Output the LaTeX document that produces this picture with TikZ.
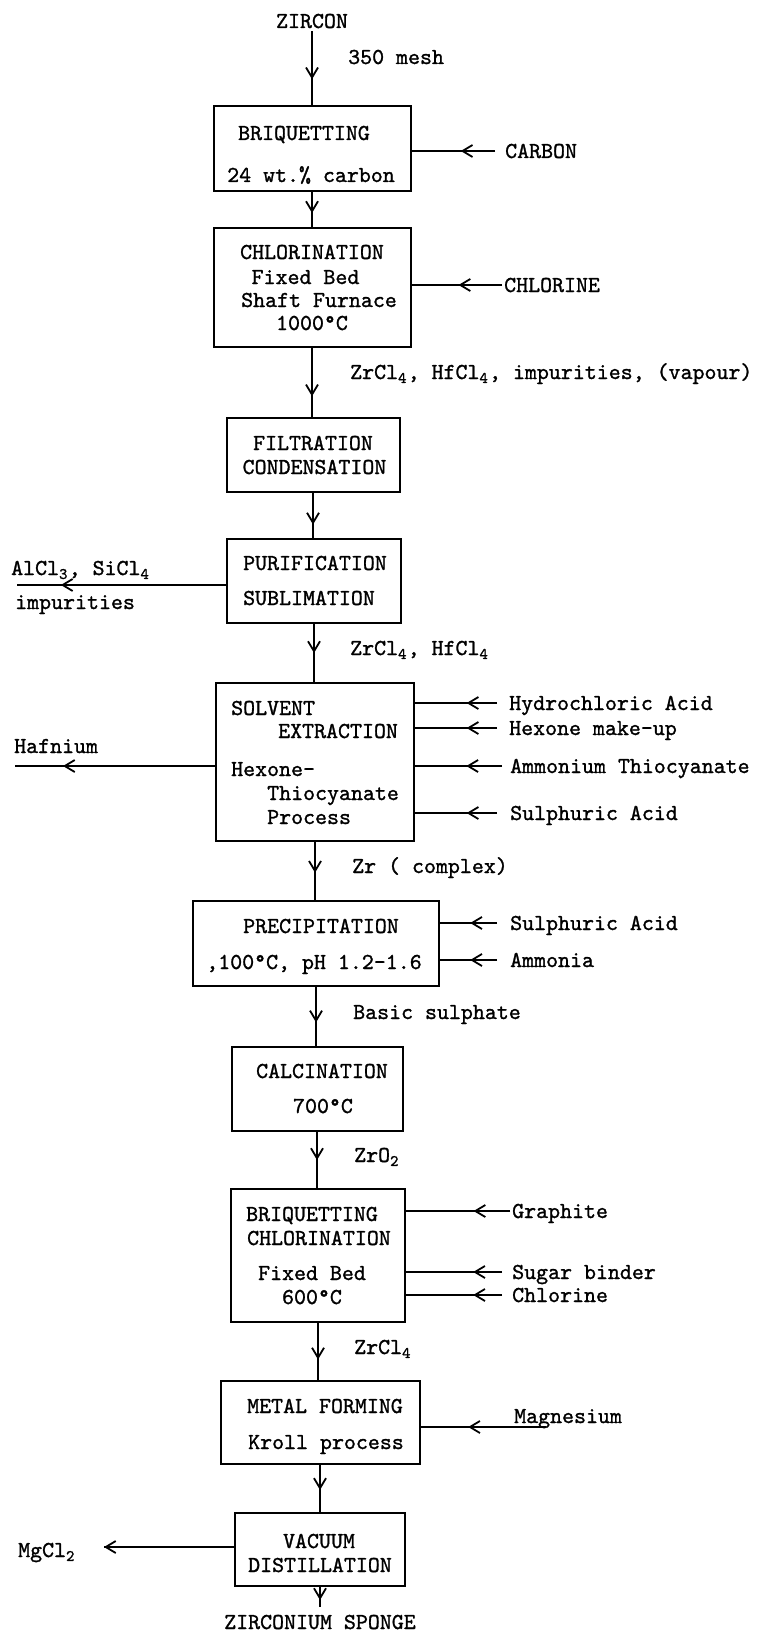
\documentclass[tikz,border=0pt]{standalone}
\usepackage{fontspec}
\usetikzlibrary{arrows.meta,decorations.markings}
\newfontfamily\diagtt{lmmono10-regular.otf}[FakeBold=1.2]
\newcommand\diagfont{\diagtt\fontsize{22.8}{26}\selectfont}
\newcommand\chemsub[1]{\makebox[0.42em][l]{\raisebox{-0.4ex}{\fontsize{16}{16}\selectfont #1}}}
\tikzset{
  box/.style={draw, rectangle, line width=2pt, inner sep=0pt},
  txt/.style={font=\diagfont, inner sep=3pt, anchor=base},
  lbl/.style={font=\diagfont, inner sep=3pt, anchor=base west},
  flowline/.style={line width=1.8pt, postaction={decorate},
    decoration={markings, mark=at position #1 with {\arrow{Straight Barb[length=10pt,width=12pt]}}}},
  flowline/.default=0.5,
}
\begin{document}
\begin{tikzpicture}[x=1pt,y=-1pt]
\useasboundingbox (0,0) rectangle (758,1632);

% ---- process boxes ----
\node[box, minimum width=197pt, minimum height=85pt]  (b1)  at (312,148.5) {};
\node[box, minimum width=197pt, minimum height=119pt] (b2)  at (312,287.5) {};
\node[box, minimum width=173pt, minimum height=74pt]  (b3)  at (313,455) {};
\node[box, minimum width=174pt, minimum height=84pt]  (b4)  at (314,581) {};
\node[box, minimum width=198pt, minimum height=158pt] (b5)  at (315,762) {};
\node[box, minimum width=246pt, minimum height=85pt]  (b6)  at (316,943.5) {};
\node[box, minimum width=171pt, minimum height=84pt]  (b7)  at (317,1089) {};
\node[box, minimum width=174pt, minimum height=133pt] (b8)  at (318,1255.5) {};
\node[box, minimum width=199pt, minimum height=83pt]  (b9)  at (320,1422.5) {};
\node[box, minimum width=170pt, minimum height=73pt]  (b10) at (320,1549.5) {};

% ---- box texts ----
\node[txt] (t1a) at (304,140) {BRIQUETTING};
\node[txt] (t1b) at (311,182) {24 wt.\% carbon};

\node[txt] (t2a) at (312,259) {CHLORINATION};
\node[txt] (t2b) at (305.5,284) {Fixed Bed};
\node[txt] (t2c) at (319,307) {Shaft Furnace};
\node[txt] (t2d) at (312,330) {1000\textdegree C};

\node[txt] (t3a) at (313,450) {FILTRATION};
\node[txt] (t3b) at (314.5,474) {CONDENSATION};

\node[txt] (t4a) at (315,570) {PURIFICATION};
\node[txt] (t4b) at (309,605) {SUBLIMATION};

\node[lbl] (t5a) at (228,715) {SOLVENT};
\node[lbl] (t5b) at (275,738) {EXTRACTION};
\node[lbl] (t5c) at (228,776) {Hexone-};
\node[lbl] (t5d) at (264,800) {Thiocyanate};
\node[lbl] (t5e) at (264,824) {Process};

\node[txt] (t6a) at (321,933) {PRECIPITATION};
\node[txt] (t6b) at (314,969) {,100\textdegree C, pH 1.2-1.6};

\node[txt] (t7a) at (322,1078) {CALCINATION};
\node[txt] (t7b) at (323,1113) {700\textdegree C};

\node[txt] (t8a) at (312,1221) {BRIQUETTING};
\node[txt] (t8b) at (319,1245) {CHLORINATION};
\node[txt] (t8c) at (312,1280) {Fixed Bed};
\node[txt] (t8d) at (312,1304) {600\textdegree C};

\node[txt] (t9a) at (325,1413) {METAL FORMING};
\node[txt] (t9b) at (326,1449) {Kroll process};

\node[txt] (t10a) at (319,1548) {VACUUM};
\node[txt] (t10b) at (320,1572) {DISTILLATION};

% ---- main stream ----
\node[txt] (zircon) at (312,28) {ZIRCON};
\node[lbl] (mesh) at (345,64) {350 mesh};
\node[lbl] (vap) at (347,379) {ZrCl\chemsub{4}, HfCl\chemsub{4}, impurities, (vapour)};
\node[lbl] (zh) at (347,655) {ZrCl\chemsub{4}, HfCl\chemsub{4}};
\node[lbl] (zrc) at (349,873) {Zr ( complex)};
\node[lbl] (bs) at (350,1019) {Basic sulphate};
\node[lbl] (zro) at (351,1162) {ZrO\chemsub{2}};
\node[lbl] (zrcl) at (351,1354) {ZrCl\chemsub{4}};
\node[txt] (sponge) at (320,1629) {ZIRCONIUM SPONGE};

\draw[flowline=0.65] (zircon.south) -- (zircon.south |- b1.north);
\draw[flowline=0.6]  (b1.south) -- (b1.south |- b2.north);
\draw[flowline=0.7]  (b2.south) -- (b2.south |- b3.north);
\draw[flowline=0.7]  (b3.south) -- (b3.south |- b4.north);
\draw[flowline=0.5]  (b4.south) -- (b4.south |- b5.north);
\draw[flowline=0.53] (b5.south) -- (b5.south |- b6.north);
\draw[flowline=0.6]  (b6.south) -- (b6.south |- b7.north);
\draw[flowline=0.5]  (b7.south) -- (b7.south |- b8.north);
\draw[flowline=0.64] (b8.south) -- (b8.south |- b9.north);
\draw[flowline=0.53] (b9.south) -- (b9.south |- b10.north);
\coordinate (spongeEnd) at (320,1607);
\draw[flowline=0.65] (b10.south) -- (b10.south |- spongeEnd);

% ---- feeds entering from the right ----
\coordinate (cCarbon) at (495,151);
\node[lbl] (carbon) at (502,158) {CARBON};
\draw[flowline=0.41] (cCarbon) -- (b1.east |- cCarbon);

\coordinate (cChlorine) at (502,285);
\node[lbl] (chlorine) at (501,292) {CHLORINE};
\draw[flowline=0.48] (cChlorine) -- (b2.east |- cChlorine);

\coordinate (cHcl) at (497,703);
\node[lbl] (hcl) at (506,710) {Hydrochloric Acid};
\draw[flowline=0.37] (cHcl) -- (b5.east |- cHcl);

\coordinate (cHex) at (497,728);
\node[lbl] (hex) at (506,735) {Hexone make-up};
\draw[flowline=0.37] (cHex) -- (b5.east |- cHex);

\coordinate (cAmm) at (502,766);
\node[lbl] (amm) at (507,773) {Ammonium Thiocyanate};
\draw[flowline=0.41] (cAmm) -- (b5.east |- cAmm);

\coordinate (cSulA) at (497,813);
\node[lbl] (sulA) at (507,820) {Sulphuric Acid};
\draw[flowline=0.37] (cSulA) -- (b5.east |- cSulA);

\coordinate (cSulB) at (497,923);
\node[lbl] (sulB) at (507,930) {Sulphuric Acid};
\draw[flowline=0.47] (cSulB) -- (b6.east |- cSulB);

\coordinate (cAmmonia) at (497,960);
\node[lbl] (ammonia) at (507,967) {Ammonia};
\draw[flowline=0.47] (cAmmonia) -- (b6.east |- cAmmonia);

\coordinate (cGraph) at (510,1211);
\node[lbl] (graph) at (509,1218) {Graphite};
\draw[flowline=0.35] (cGraph) -- (b8.east |- cGraph);

\coordinate (cSugar) at (502,1272);
\node[lbl] (sugar) at (509,1279) {Sugar binder};
\draw[flowline=0.3] (cSugar) -- (b8.east |- cSugar);

\coordinate (cChl) at (502,1295);
\node[lbl] (chl) at (509,1302) {Chlorine};
\draw[flowline=0.3] (cChl) -- (b8.east |- cChl);

\coordinate (cMag) at (546,1427);
\node[lbl] (mag) at (511,1423) {Magnesium};
\draw[flowline=0.62] (cMag) -- (b9.east |- cMag);

% ---- products leaving to the left ----
\coordinate (cAl) at (17,585);
\node[lbl] (alcl) at (8,575) {AlCl\chemsub{3}, SiCl\chemsub{4}};
\node[lbl] (imp) at (12,609) {impurities};
\draw[flowline=0.79] (b4.west |- cAl) -- (cAl);

\coordinate (cHf) at (15,766);
\node[lbl] (hf) at (11,753) {Hafnium};
\draw[flowline=0.76] (b5.west |- cHf) -- (cHf);

\coordinate (cMg) at (104,1547);
\node[lbl] (mgcl) at (15,1557) {MgCl\chemsub{2}};
\draw[flowline=1] (b10.west |- cMg) -- (cMg);
\end{tikzpicture}
\end{document}
